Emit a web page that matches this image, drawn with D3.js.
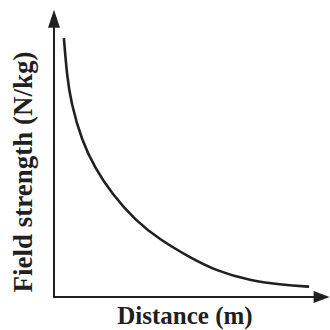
<!DOCTYPE html>
<html>
<head>
<meta charset="utf-8">
<script src="https://cdn.jsdelivr.net/npm/d3@7"></script>
<style>
  html, body { margin: 0; padding: 0; background: #fff; }
  svg { display: block; }
</style>
</head>
<body>
<div id="chart"></div>
<script>
// values (arbitrary units, no ticks shown)
var distance      = [0.38, 0.50, 0.65, 1.07, 1.58, 2.22, 3.12, 4.08, 5.23, 6.26, 7.54, 8.81, 9.81];
var fieldStrength = [9.96, 8.50, 7.50, 6.00, 4.95, 3.98, 2.95, 2.20, 1.52, 1.00, 0.63, 0.46, 0.40];
var xLabel = 'Distance (m)';
var yLabel = 'Field strength (N/kg)';

var sizes = {width: 330, height: 330},
    ink = '#231f20';

var svg = d3.select('#chart')
            .append('svg')
            .attr('width', sizes.width)
            .attr('height', sizes.height);

var x = d3.scaleLinear().domain([0, 10]).range([54, 314]);
var y = d3.scaleLinear().domain([0, 10]).range([297, 37]);

// axes with arrow heads
svg.append('line')
    .attr('x1', x(0)).attr('y1', y(0))
    .attr('x2', x(0)).attr('y2', y(10.4))
    .attr('stroke', ink).attr('stroke-width', 2);
svg.append('line')
    .attr('x1', x(0) - 1).attr('y1', y(0))
    .attr('x2', x(10)).attr('y2', y(0))
    .attr('stroke', ink).attr('stroke-width', 2);

var yTip = y(11.05), xTip = x(10.6);
svg.append('path')
    .attr('d', 'M' + x(0) + ',' + yTip + 'L' + (x(0) + 6) + ',' + (yTip + 18) + 'L' + (x(0) - 6) + ',' + (yTip + 18) + 'Z')
    .attr('fill', ink);
svg.append('path')
    .attr('d', 'M' + xTip + ',' + y(0) + 'L' + (xTip - 16) + ',' + (y(0) - 6) + 'L' + (xTip - 16) + ',' + (y(0) + 6) + 'Z')
    .attr('fill', ink);

// the curve
var line = d3.line()
    .x(function(d, i){ return x(distance[i]); })
    .y(function(d){ return y(d); })
    .curve(d3.curveBasis);

svg.append('path')
    .datum(fieldStrength)
    .attr('d', line)
    .attr('fill', 'none')
    .attr('stroke', ink)
    .attr('stroke-width', 2.6);

// labels
svg.append('text')
    .attr('x', 185).attr('y', 324)
    .attr('text-anchor', 'middle')
    .style('font-family', '"Liberation Serif", "Times New Roman", serif')
    .style('font-weight', 'bold')
    .style('font-size', '25px')
    .attr('fill', ink)
    .text(xLabel);

svg.append('text')
    .attr('transform', 'translate(32,172) rotate(-90)')
    .attr('text-anchor', 'middle')
    .style('font-family', '"Liberation Serif", "Times New Roman", serif')
    .style('font-weight', 'bold')
    .style('font-size', '27px')
    .attr('fill', ink)
    .text(yLabel);
</script>
</body>
</html>
